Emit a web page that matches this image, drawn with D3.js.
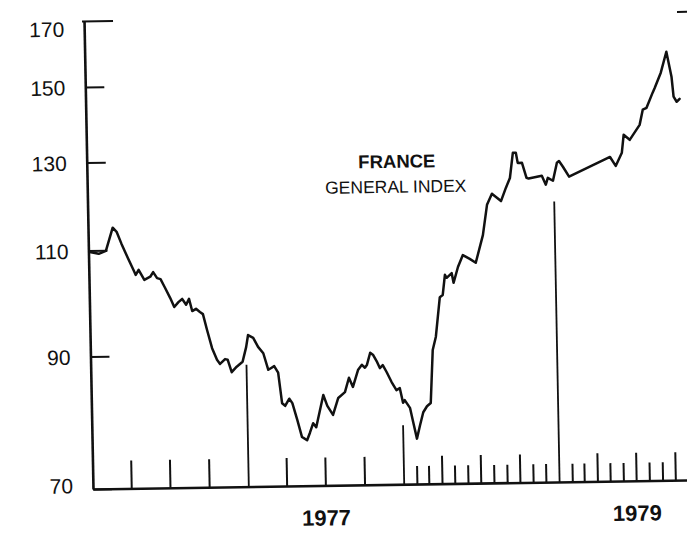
<!DOCTYPE html>
<html>
<head>
<meta charset="utf-8">
<script src="https://cdn.jsdelivr.net/npm/d3@7/dist/d3.min.js"></script>
<style>
  html, body { margin: 0; padding: 0; background: #fff; }
  svg { display: block; }
  text { font-family: "Liberation Sans", Arial, Helvetica, sans-serif; fill: #111; }
</style>
</head>
<body>
<svg id="chart" width="687" height="533"></svg>
<script>
// ---------------- DATA ----------------
const dates = [
  "1976-01-04","1976-01-25","1976-02-11","1976-02-28","1976-03-08","1976-03-19","1976-04-02","1976-04-16",
  "1976-04-20","1976-04-27","1976-05-10","1976-05-24","1976-05-31","1976-06-09","1976-06-17","1976-06-26",
  "1976-07-09","1976-07-18","1976-07-28","1976-08-06","1976-08-15","1976-08-22","1976-08-29","1976-09-07",
  "1976-09-16","1976-09-23","1976-10-02","1976-10-13","1976-10-24","1976-10-31","1976-11-12","1976-11-18",
  "1976-11-27","1976-12-09","1976-12-23",
  "1977-01-01","1977-01-06","1977-01-18","1977-01-29","1977-02-10","1977-02-21","1977-02-28","1977-03-07",
  "1977-03-16","1977-03-24","1977-03-31","1977-04-10","1977-04-17","1977-04-28","1977-05-08","1977-05-20",
  "1977-05-27","1977-06-04","1977-06-11","1977-06-29","1977-07-08","1977-07-21","1977-08-03","1977-08-19",
  "1977-08-29","1977-09-07","1977-09-20","1977-09-29","1977-10-06","1977-10-11","1977-10-19","1977-10-26",
  "1977-11-04","1977-11-10","1977-11-17","1977-11-26","1977-12-07","1977-12-18","1977-12-26",
  "1978-01-02","1978-01-06","1978-01-18","1978-01-24","1978-02-02","1978-02-10","1978-02-18","1978-02-27",
  "1978-03-08","1978-03-15","1978-03-23","1978-04-03","1978-04-10","1978-04-16","1978-04-20","1978-05-02",
  "1978-05-06","1978-05-17","1978-05-29","1978-06-14","1978-06-28","1978-07-16","1978-07-27","1978-08-08",
  "1978-08-29","1978-09-10","1978-09-20","1978-09-28","1978-10-05","1978-10-09","1978-10-19","1978-10-29",
  "1978-11-03","1978-12-04","1978-12-13","1978-12-18","1978-12-30",
  "1979-01-09","1979-01-14","1979-01-23","1979-02-06","1979-05-14","1979-05-27","1979-06-11","1979-06-16",
  "1979-06-30","1979-07-24","1979-08-01","1979-08-10","1979-08-25","1979-08-30","1979-09-14","1979-09-28",
  "1979-10-09","1979-10-13","1979-10-20","1979-10-27"
];
const values = [
  109.7,109.3,109.9,114.8,113.9,111.3,108.4,105.7,
  104.9,105.9,103.9,104.5,105.4,104.2,104.0,102.5,
  100.3,98.6,99.5,100.1,99.0,100.1,97.8,98.2,
  97.6,97.2,94.3,91.1,89.1,88.4,89.2,89.1,
  87.0,87.9,88.7,
  91.2,93.3,92.8,91.2,90.1,87.3,87.6,87.9,
  86.8,81.9,81.5,82.6,81.9,79.3,76.8,76.3,
  77.4,78.8,78.2,83.1,81.4,80.0,82.6,83.5,
  85.8,84.3,87.1,87.9,87.4,87.9,89.9,89.5,
  88.3,87.3,87.8,86.6,85.0,83.7,84.0,
  81.7,82.1,80.9,79.0,76.3,78.3,80.2,81.1,
  81.6,90.2,92.5,99.7,100.1,104.0,103.4,104.3,
  102.4,105.5,107.9,107.1,106.3,112.0,118.6,121.1,
  119.4,122.4,124.7,130.8,130.8,128.3,128.3,124.7,
  124.5,125.1,123.0,124.6,123.9,
  128.2,128.6,127.2,124.8,129.4,127.2,130.4,134.9,
  133.6,137.4,141.4,141.9,146.0,147.3,151.6,157.7,
  150.4,144.8,143.4,144.2
];

// long year-boundary markers (date, value reached by the marker top)
const markerDates = ["1977-01-01", "1978-01-01", "1979-01-01"];
const markerTops  = [88.2, 78.3, 119.1];

const yTicks = [70, 90, 110, 130, 150, 170];
const yearLabels = ["1977", "1979"];
const titleLines = ["FRANCE", "GENERAL INDEX"];

// ---------------- SCALES ----------------
const parse = d3.utcParse("%Y-%m-%d");
const x0 = 93, y0 = 489;

const x = d3.scaleUtc()
  .domain([parse("1976-01-01"), parse("1980-01-01")])
  .range([x0, x0 + 4 * 155.5]);
const y = d3.scaleLog().domain([70, 170]).range([y0, 21]);

const svg = d3.select("#chart");
// slight skew of the scanned original
const g = svg.append("g")
  .attr("transform", `translate(${x0},${y0}) matrix(1,-0.0152,0.0192,1,0,0) translate(${-x0},${-y0})`);

// ---------------- Y AXIS ----------------
const yAxis = g.append("g")
  .attr("transform", `translate(${x0},0)`)
  .call(d3.axisLeft(y).tickValues(yTicks).tickSize(-19).tickSizeOuter(0).tickPadding(20)
        .tickFormat(d3.format("d")));
yAxis.select(".domain").attr("stroke", "#111").attr("stroke-width", 2.6);
yAxis.selectAll(".tick line").attr("stroke", "#111").attr("stroke-width", 2)
  .attr("x2", d => d === 170 ? 29 : 19)
  .attr("x1", d => d === 170 ? -2 : 0);
yAxis.selectAll(".tick text")
  .attr("font-size", 21)
  .attr("fill", "#111")
  .attr("dy", d => d === 170 ? "0.71em" : d === 70 ? "0.17em" : "0.36em");

// right-hand 170 tick (axis lies beyond the picture)
g.append("line")
  .attr("x1", x(parse("1980-01-01")) - 29).attr("x2", x(parse("1980-01-01")))
  .attr("y1", y(170)).attr("y2", y(170))
  .attr("stroke", "#111").attr("stroke-width", 2);

// ---------------- X AXIS ----------------
const xAxis = g.append("g")
  .attr("transform", `translate(0,${y0})`)
  .call(d3.axisBottom(x).tickValues([]).tickSizeOuter(0));
xAxis.select(".domain").attr("stroke", "#111").attr("stroke-width", 2.6);

const months = d3.utcMonth.range(parse("1976-02-01"), parse("1979-11-01"));
const isYearStart = d => d.getUTCMonth() === 0;
const isQuarter = d => d.getUTCMonth() % 3 === 0;
const tickDates = months.filter(d => !isYearStart(d) &&
  (d.getUTCFullYear() >= 1978 || isQuarter(d)));

g.append("g").selectAll("line")
  .data(tickDates)
  .join("line")
  .attr("x1", d => x(d)).attr("x2", d => x(d))
  .attr("y1", y0)
  .attr("y2", d => y0 - (isQuarter(d) ? 28 : 18))
  .attr("stroke", "#111").attr("stroke-width", 2);

// year-boundary markers
g.append("g").selectAll("line")
  .data(markerDates.map((d, i) => ({ date: parse(d), top: markerTops[i] })))
  .join("line")
  .attr("x1", d => x(d.date)).attr("x2", d => x(d.date))
  .attr("y1", y0).attr("y2", d => y(d.top))
  .attr("stroke", "#111").attr("stroke-width", 1.8);

// year labels (centred on the year)
g.append("g").selectAll("text")
  .data(yearLabels)
  .join("text")
  .attr("x", d => x(parse(d + "-07-01")))
  .attr("y", y0 + 40)
  .attr("text-anchor", "middle")
  .attr("font-size", 22)
  .attr("font-weight", "bold")
  .text(d => d);

// ---------------- LINE ----------------
const series = dates.map((d, i) => ({ date: parse(d), value: values[i] }));
g.append("path")
  .datum(series)
  .attr("fill", "none")
  .attr("stroke", "#111")
  .attr("stroke-width", 2.5)
  .attr("stroke-linejoin", "round")
  .attr("stroke-linecap", "round")
  .attr("d", d3.line().x(d => x(d.date)).y(d => y(d.value)));

// ---------------- TITLE ----------------
g.append("text")
  .attr("x", 403).attr("y", 172.5)
  .attr("text-anchor", "middle")
  .attr("font-size", 18.5).attr("font-weight", "bold")
  .text(titleLines[0]);
g.append("text")
  .attr("x", 401.5).attr("y", 197.5)
  .attr("text-anchor", "middle")
  .attr("font-size", 17.5)
  .text(titleLines[1]);
</script>
</body>
</html>
